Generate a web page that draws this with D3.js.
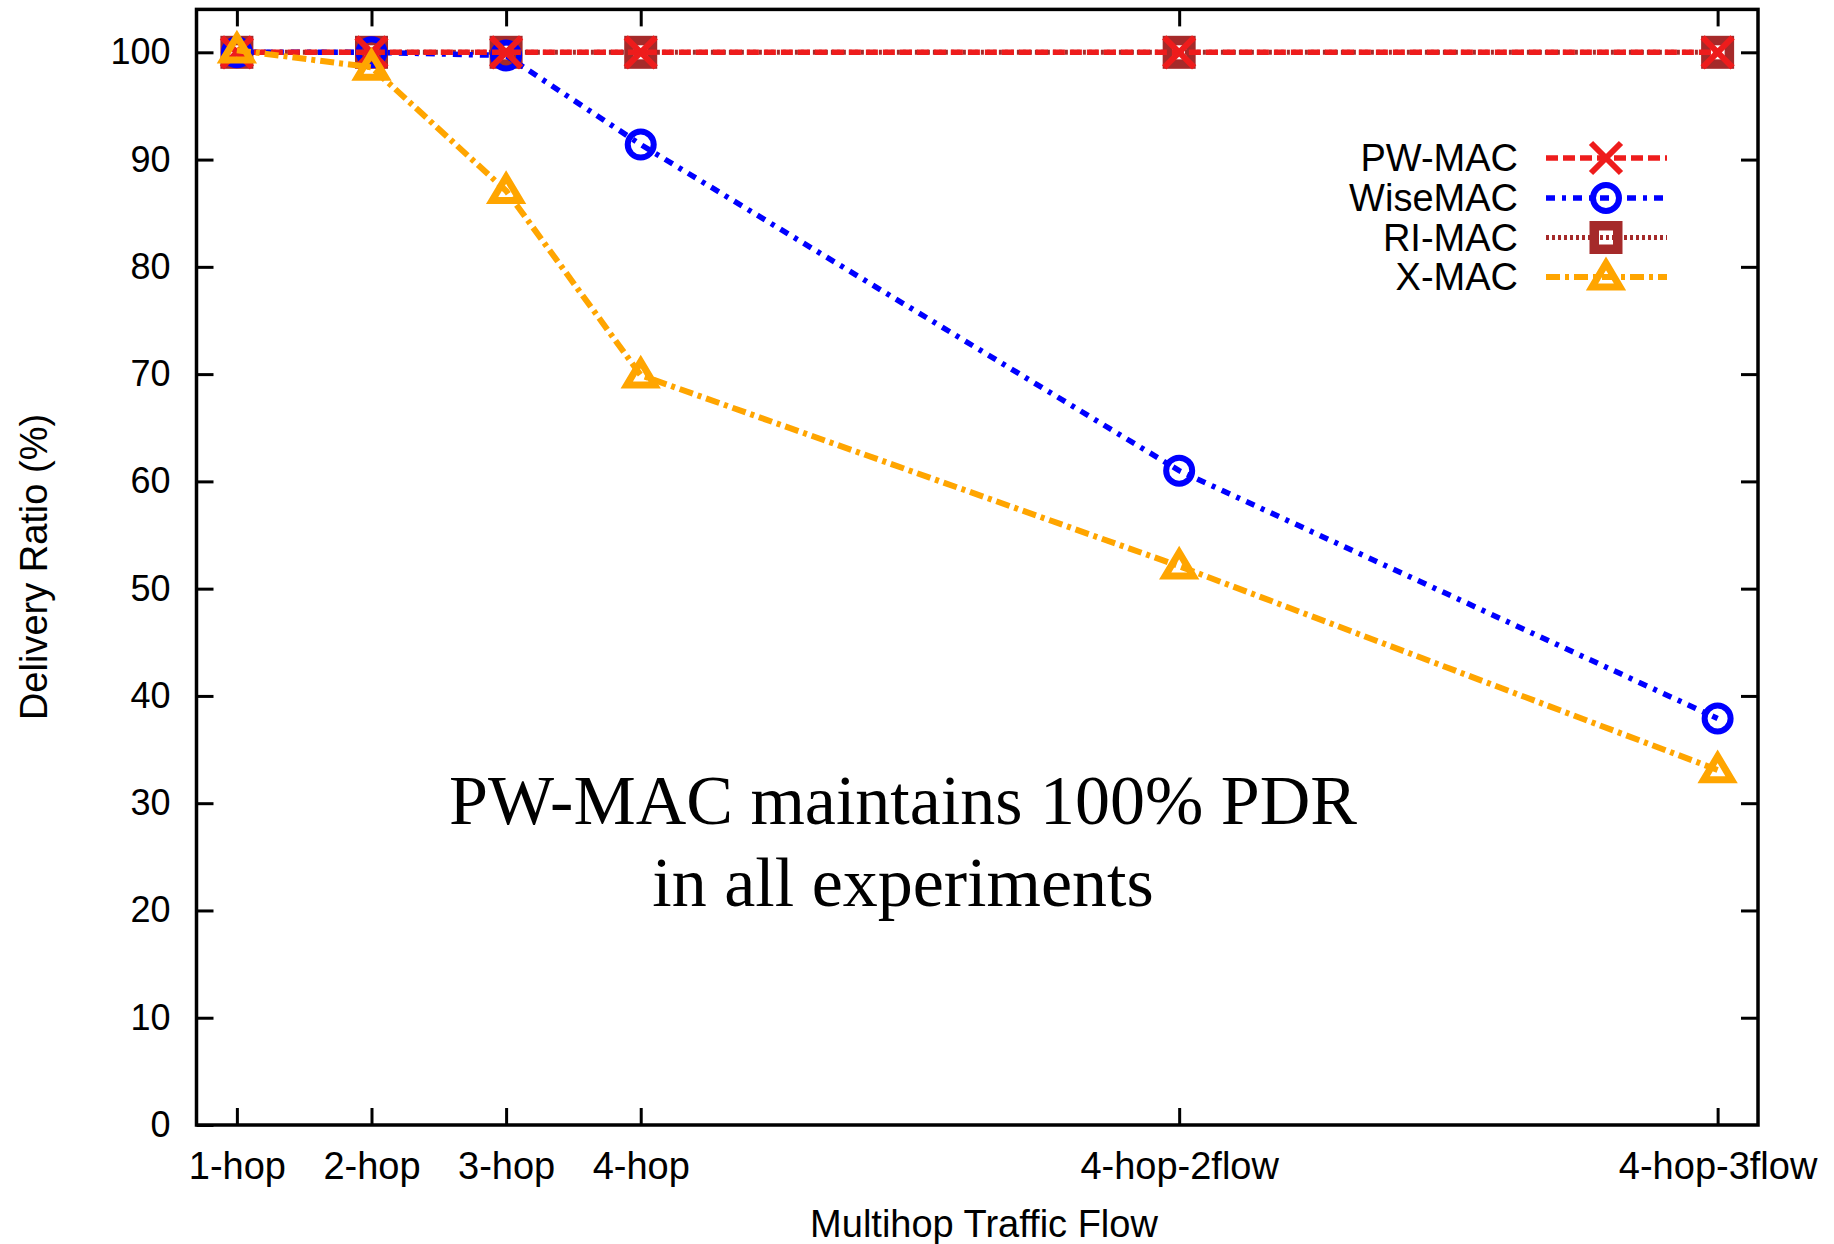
<!DOCTYPE html>
<html>
<head>
<meta charset="utf-8">
<script src="https://cdn.jsdelivr.net/npm/d3@7"></script>
<style>
  html, body { margin: 0; padding: 0; background: #fff; }
  svg { display: block; }
</style>
</head>
<body>
<svg id="chart" width="1834" height="1244"></svg>
<script>
// ---- data ----
const categories = ["1-hop", "2-hop", "3-hop", "4-hop", "4-hop-2flow", "4-hop-3flow"];
const categoryPos = [0, 1, 2, 3, 7, 11];
const pwmac   = [100, 100, 100, 100, 100, 100];
const wisemac = [100, 100, 99.7, 91.4, 61.0, 37.9];
const rimac   = [100, 100, 100, 100, 100, 100];
const xmac    = [100.2, 98.6, 87.1, 69.9, 52.1, 33.1];
const yTicks  = [0, 10, 20, 30, 40, 50, 60, 70, 80, 90, 100];
const seriesNames = ["PW-MAC", "WiseMAC", "RI-MAC", "X-MAC"];
const annotationLines = ["PW-MAC maintains 100% PDR", "in all experiments"];

// ---- layout ----
const L = 196.5, R = 1758, T = 9.4, B = 1125;
const svg = d3.select("#chart");
const x = d3.scaleLinear().domain([-0.3, 11.3]).range([L, R]);
const y = d3.scaleLinear().domain([0, 104]).range([B, T]);

const styles = {
  "PW-MAC":  { color: "#ee1c1c", dash: "12,5",       width: 5.5, marker: "cross" },
  "WiseMAC": { color: "#0000ff", dash: "9,7,4,7",    width: 5.5, marker: "circle" },
  "RI-MAC":  { color: "#a52a2a", dash: "3,3",        width: 5,   marker: "square" },
  "X-MAC":   { color: "#ffa500", dash: "14,5,4,5",   width: 6,   marker: "triangle" }
};
const dataBy = { "PW-MAC": pwmac, "WiseMAC": wisemac, "RI-MAC": rimac, "X-MAC": xmac };

function drawMarker(g, type, cx, cy, color) {
  if (type === "cross") {
    const s = 15;
    g.append("path")
      .attr("d", `M${cx - s},${cy - s}L${cx + s},${cy + s}M${cx - s},${cy + s}L${cx + s},${cy - s}`)
      .attr("stroke", color).attr("stroke-width", 6).attr("fill", "none");
  } else if (type === "circle") {
    g.append("circle").attr("cx", cx).attr("cy", cy).attr("r", 13)
      .attr("stroke", color).attr("stroke-width", 6).attr("fill", "none");
  } else if (type === "square") {
    g.append("rect").attr("x", cx - 11.75).attr("y", cy - 11.75).attr("width", 23.5).attr("height", 23.5)
      .attr("stroke", color).attr("stroke-width", 9.5).attr("fill", "none");
  } else if (type === "triangle") {
    const w = 14, h = 22;
    g.append("path")
      .attr("d", `M${cx},${cy - h * 0.62}L${cx + w},${cy + h * 0.45}L${cx - w},${cy + h * 0.45}Z`)
      .attr("stroke", color).attr("stroke-width", 7).attr("stroke-linejoin", "miter").attr("fill", "none");
  }
}

// ---- axes (inward ticks, mirrored) ----
const tickStyle = sel => {
  sel.select(".domain").remove();
  sel.selectAll(".tick line").attr("stroke", "#000").attr("stroke-width", 3);
};

svg.append("g").attr("transform", `translate(${L},0)`)
  .call(d3.axisLeft(y).tickValues(yTicks).tickSize(-17).tickPadding(26))
  .call(tickStyle)
  .selectAll("text").attr("font-family", "Liberation Sans").attr("font-size", 36).attr("fill", "#000");

svg.append("g").attr("transform", `translate(${R},0)`)
  .call(d3.axisRight(y).tickValues(yTicks.filter(v => v > 0)).tickSize(-17).tickFormat(""))
  .call(tickStyle);

svg.append("g").attr("transform", `translate(0,${B})`)
  .call(d3.axisBottom(x).tickValues(categoryPos).tickSize(-17).tickPadding(27)
        .tickFormat((d, i) => categories[i]))
  .call(tickStyle)
  .selectAll("text").attr("font-family", "Liberation Sans").attr("font-size", 38).attr("fill", "#000");

svg.append("g").attr("transform", `translate(0,${T})`)
  .call(d3.axisTop(x).tickValues(categoryPos).tickSize(-17).tickFormat(""))
  .call(tickStyle);

// ---- series ----
const plot = svg.append("g");
const order = ["RI-MAC", "WiseMAC", "PW-MAC", "X-MAC"];
const line = d3.line().x(d => x(d[0])).y(d => y(d[1]));
order.forEach(name => {
  const st = styles[name];
  const pts = dataBy[name].map((v, i) => [categoryPos[i], v]);
  const g = plot.append("g");
  g.append("path").attr("d", line(pts)).attr("fill", "none")
    .attr("stroke", st.color).attr("stroke-width", st.width)
    .attr("stroke-dasharray", st.dash);
  pts.forEach(p => drawMarker(g, st.marker, x(p[0]), y(p[1]), st.color));
});

// ---- border ----
svg.append("rect").attr("x", L).attr("y", T).attr("width", R - L).attr("height", B - T)
  .attr("fill", "none").attr("stroke", "#000").attr("stroke-width", 3.5);

// ---- legend ----
const legRows = [158, 198, 237.5, 277];
const leg = svg.append("g");
seriesNames.forEach((name, i) => {
  const st = styles[name];
  const cy = legRows[i];
  leg.append("text").attr("x", 1518).attr("y", cy + 13).attr("text-anchor", "end")
    .attr("font-family", "Liberation Sans").attr("font-size", 38).attr("fill", "#000").text(name);
  leg.append("line").attr("x1", 1546).attr("x2", 1667).attr("y1", cy).attr("y2", cy)
    .attr("stroke", st.color).attr("stroke-width", st.width).attr("stroke-dasharray", st.dash);
  drawMarker(leg, st.marker, 1606, cy, st.color);
});

// ---- axis titles ----
svg.append("text").attr("x", 984).attr("y", 1237).attr("text-anchor", "middle")
  .attr("font-family", "Liberation Sans").attr("font-size", 38).attr("fill", "#000")
  .text("Multihop Traffic Flow");
svg.append("text").attr("transform", "translate(47,567) rotate(-90)").attr("text-anchor", "middle")
  .attr("font-family", "Liberation Sans").attr("font-size", 38).attr("fill", "#000")
  .text("Delivery Ratio (%)");

// ---- annotation ----
annotationLines.forEach((t, i) => {
  svg.append("text").attr("x", 903).attr("y", 824 + i * 82).attr("text-anchor", "middle")
    .attr("font-family", "Liberation Serif").attr("font-size", 70).attr("fill", "#000").text(t);
});
</script>
</body>
</html>
